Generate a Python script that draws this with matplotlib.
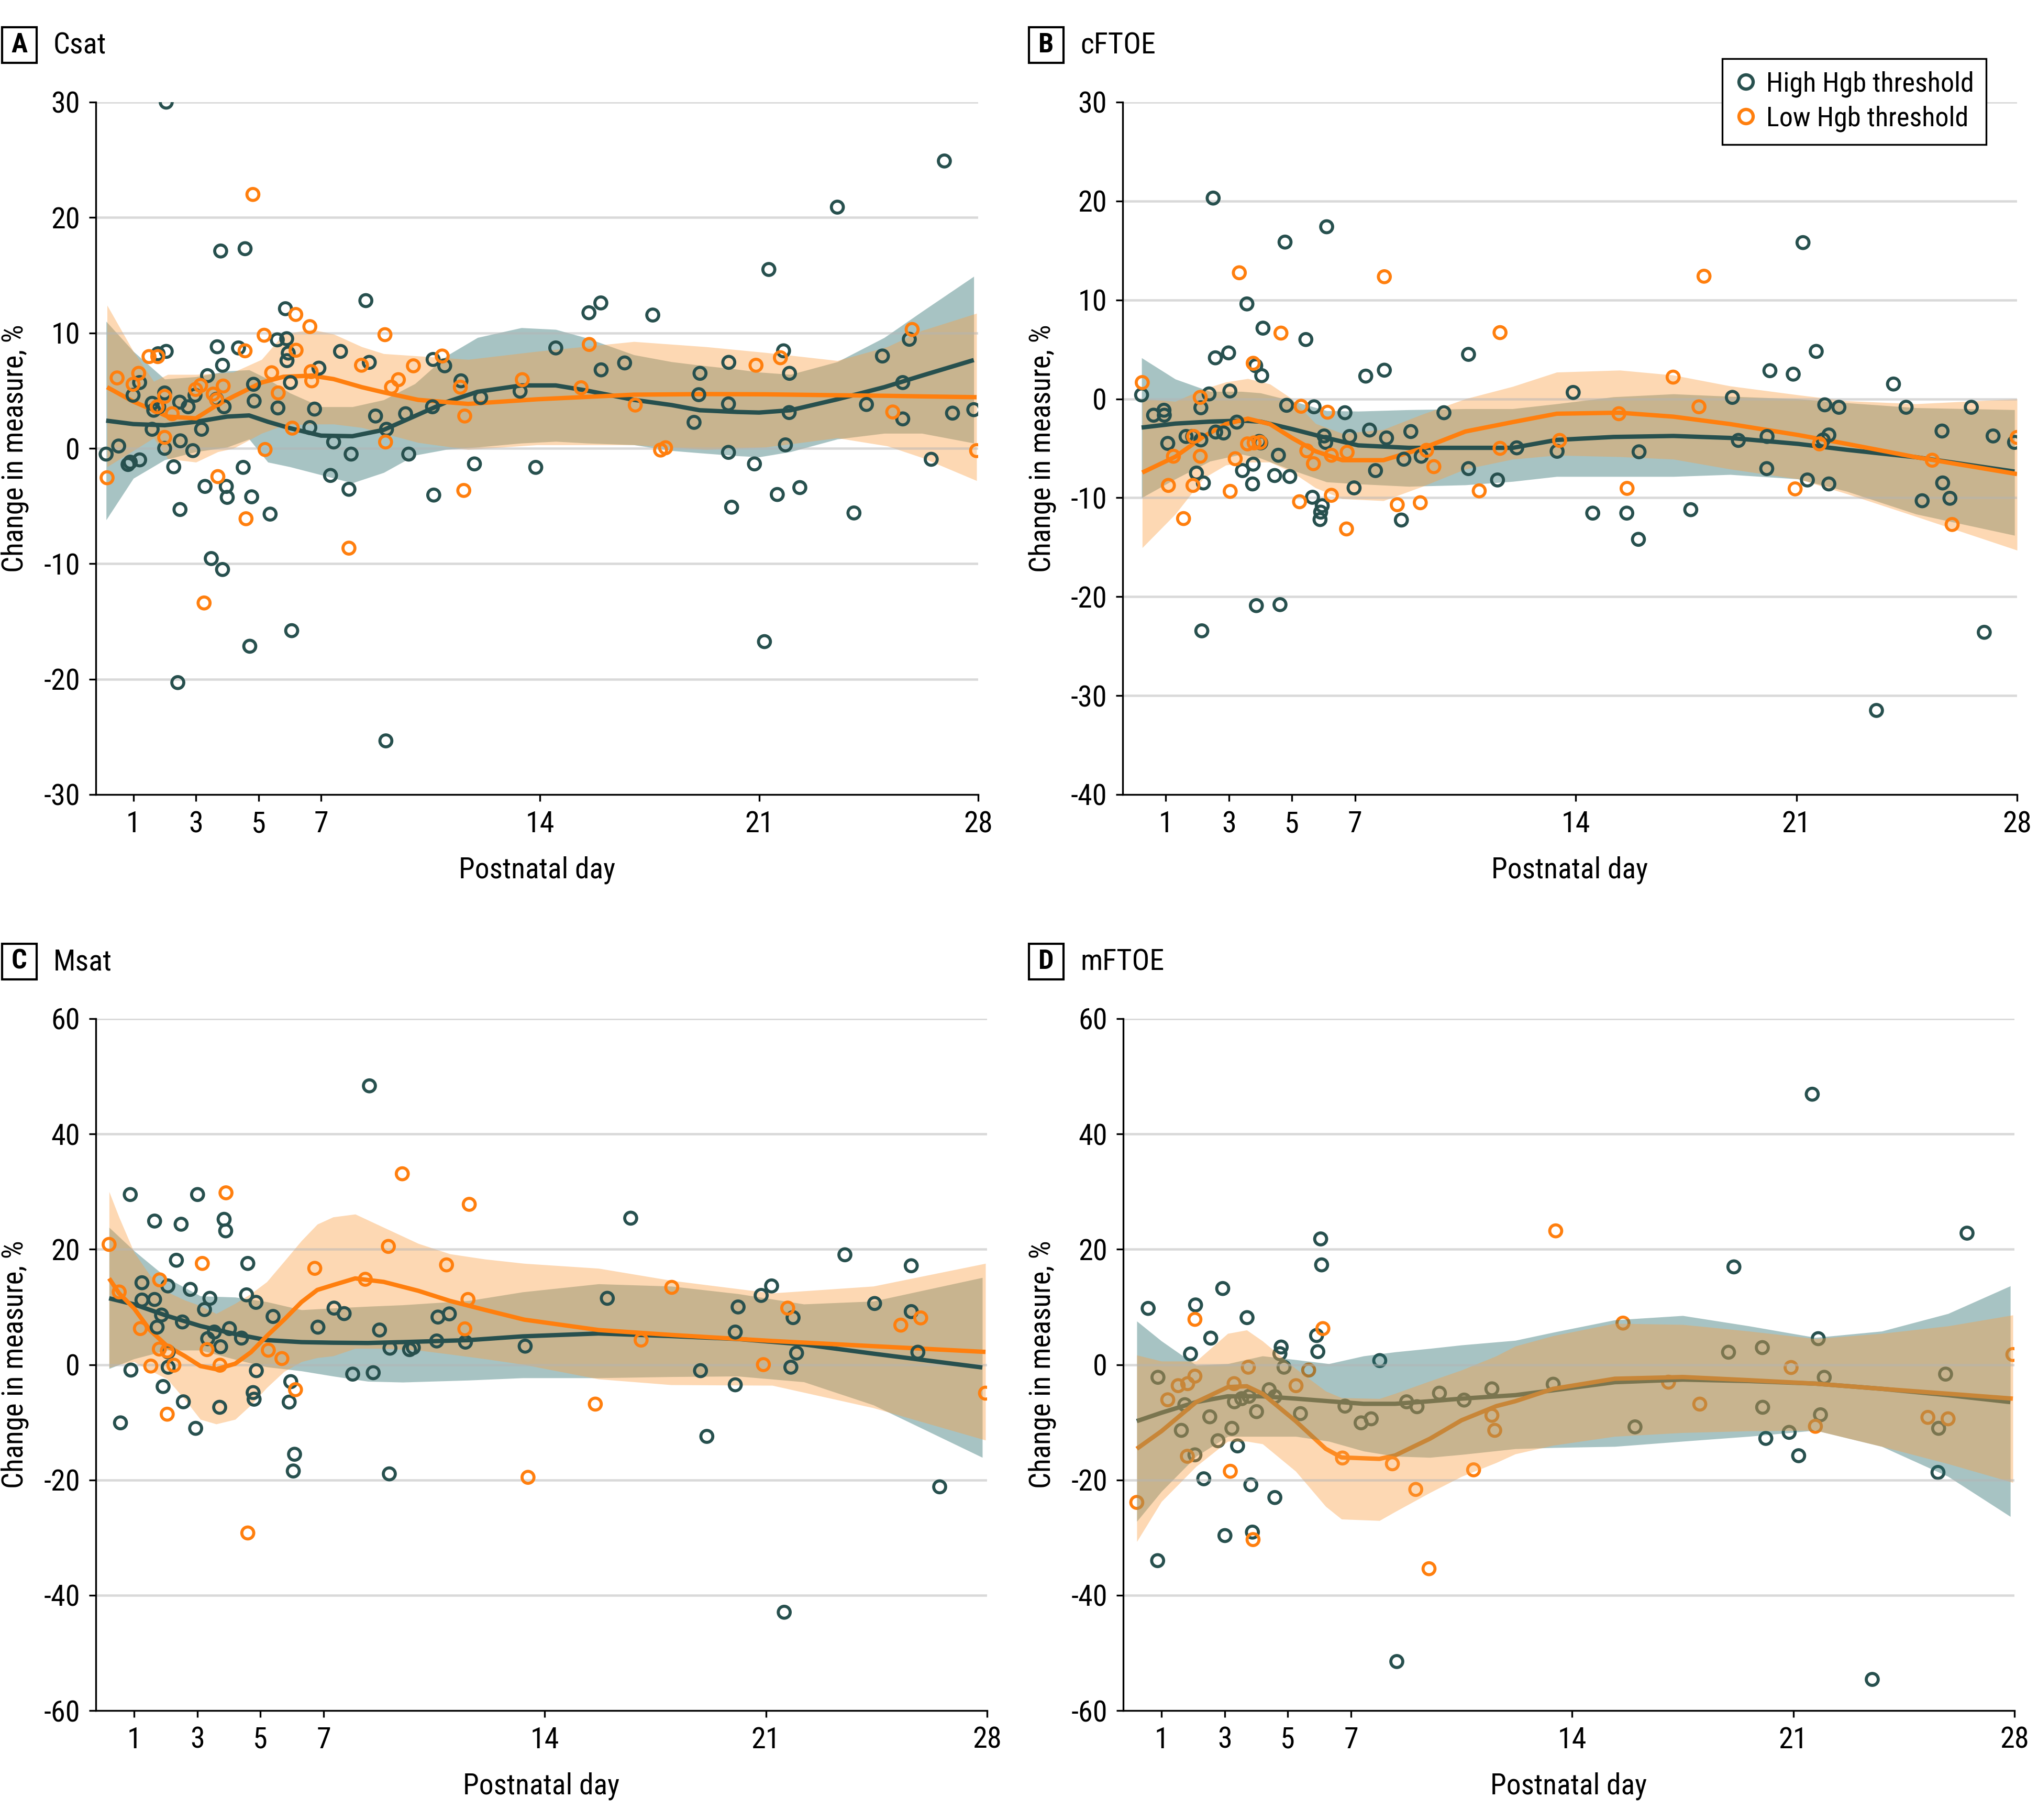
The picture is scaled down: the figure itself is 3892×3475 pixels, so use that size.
import numpy as np
import matplotlib
matplotlib.use("Agg")
import matplotlib.pyplot as plt
from matplotlib import font_manager as fm
from matplotlib.lines import Line2D
from matplotlib.patches import Rectangle

# the reference is set in a condensed sans; use whatever narrow face is installed
_fonts = [f for f in fm.fontManager.ttflist if f.style == 'normal' and f.weight in (400, 'normal', 'regular')]
_pick = None
for want in ['Liberation Sans Narrow', 'Roboto Condensed', 'Open Sans Condensed',
             'Noto Sans Condensed', 'DejaVu Sans Condensed']:
    hits = [f for f in _fonts if f.name == want]
    if hits:
        _pick = (hits[0].name, hits[0].stretch)
        break
if _pick is None:
    for f in _fonts:
        if f.stretch in ('condensed', 'semi-condensed') and 'Mono' not in f.name and 'Serif' not in f.name:
            _pick = (f.name, f.stretch)
            break
if _pick is None:
    _pick = ('Roboto', 'normal')
plt.rcParams['font.family'] = [_pick[0], 'DejaVu Sans']
plt.rcParams['font.stretch'] = _pick[1]
plt.rcParams['axes.unicode_minus'] = False

HI_COLOR = '#27504e'
LO_COLOR = '#ff7f0e'
HI_BAND = '#256b6b'
LO_BAND = '#fa9e41'

XTICKS = [1, 3, 5, 7, 14, 21, 28]

# ---------------- Panel A: Csat ----------------
a_hi = np.array([
    (2.05, 30.0), (0.13, -0.5), (0.53, 0.2), (0.83, -1.4), (0.9, -1.2), (1.2, -1.0), (0.99, 4.6),
    (1.2, 5.7), (1.6, 3.9), (1.65, 3.3), (1.81, 3.6), (2.05, 8.4), (1.79, 8.2), (2.0, 4.8),
    (2.0, 0.0), (1.6, 1.65), (2.29, -1.6), (2.48, 4.0), (2.5, 0.65), (2.75, 3.6), (2.9, -0.2),
    (2.49, -5.3), (2.42, -20.3), (2.97, 4.6), (3.18, 1.65), (3.37, 6.3), (3.29, -3.3),
    (3.49, -9.55), (3.85, -10.5), (3.68, 8.8), (3.79, 17.1), (3.85, 7.2), (3.66, 4.25),
    (3.9, 3.6), (3.97, -3.3), (4.0, -4.25), (4.36, 8.7), (4.57, 17.3), (4.51, -1.65),
    (4.78, -4.2), (4.72, -17.15), (4.84, 5.55), (4.86, 4.1), (5.37, -5.7), (5.6, 9.4),
    (5.62, 3.5), (5.86, 12.1), (5.9, 9.5), (5.95, 8.25), (5.91, 7.6), (6.02, 5.7),
    (6.06, -15.8), (6.64, 1.8), (6.79, 3.4), (6.93, 6.95), (7.3, -2.35), (7.4, 0.55),
    (7.62, 8.4), (7.89, -3.55), (7.96, -0.5), (8.43, 12.8), (8.54, 7.45), (8.74, 2.8),
    (9.09, 1.65), (9.07, -25.35), (9.7, 3.0), (9.8, -0.5), (10.58, 7.7), (10.95, 7.15),
    (10.56, 3.6), (10.6, -4.05), (11.47, 5.85), (11.9, -1.35), (12.1, 4.4), (13.36, 4.95),
    (13.86, -1.65), (14.5, 8.7), (15.56, 11.75), (15.94, 12.6), (15.95, 6.8), (16.7, 7.4),
    (17.6, 11.55), (18.92, 2.25), (19.07, 4.65), (19.11, 6.5), (20.03, 7.45), (20.02, 3.85),
    (20.02, -0.35), (20.12, -5.1), (20.85, -1.35), (21.31, 15.5), (21.17, -16.75),
    (21.58, -4.0), (21.78, 8.45), (21.97, 6.5), (21.96, 3.1), (21.84, 0.3), (22.3, -3.4),
    (23.5, 20.9), (24.03, -5.6), (24.43, 3.8), (24.94, 8.0), (25.59, 5.7), (25.8, 9.45),
    (25.59, 2.55), (26.5, -0.95), (26.92, 24.9), (27.18, 3.05), (27.86, 3.35)])
a_lo = np.array([
    (0.16, -2.55), (0.48, 6.1), (0.99, 5.55), (1.17, 6.5), (1.5, 7.95), (1.78, 7.95),
    (1.76, 3.6), (2.0, 4.5), (2.0, 0.95), (2.24, 3.0), (2.99, 5.1), (3.15, 5.45),
    (3.26, -13.4), (3.55, 4.7), (3.66, 4.2), (3.87, 5.4), (3.7, -2.45), (4.57, 8.45),
    (4.6, -6.1), (4.82, 22.0), (5.18, 9.8), (5.21, -0.1), (5.42, 6.55), (5.63, 4.8),
    (6.08, 1.75), (6.19, 11.6), (6.2, 8.5), (6.64, 10.55), (6.68, 6.65), (6.7, 5.85),
    (7.89, -8.65), (8.29, 7.2), (9.04, 9.85), (9.06, 0.55), (9.25, 5.3), (9.47, 5.95),
    (9.95, 7.15), (10.87, 8.0), (11.45, 5.3), (11.59, 2.8), (11.56, -3.65), (13.43, 5.95),
    (15.31, 5.25), (15.57, 9.0), (17.04, 3.75), (17.85, -0.15), (18.01, 0.05), (20.9, 7.2),
    (21.68, 7.85), (25.27, 3.15), (25.89, 10.3), (27.95, -0.2)])

# fitted curve + 95% CI: day, fit, lower, upper
a_hi_fit = np.array([
    (0.13, 2.4, -6.2, 11.0), (1, 2.1, -2.6, 8.4), (2, 2.0, -1.0, 6.0), (3, 2.3, -0.3, 6.2),
    (4, 2.75, 0.1, 6.7), (4.7, 2.85, 0.8, 6.8), (5.3, 2.3, -1.2, 6.0), (6, 1.75, -1.6, 4.8),
    (7, 1.1, -2.3, 3.6), (8, 1.05, -3.0, 3.6), (9, 1.6, -2.1, 4.2), (10, 2.8, -0.6, 5.6),
    (11, 4.0, -0.1, 8.0), (12, 4.9, 0.1, 9.6), (13.4, 5.45, 0.45, 10.45), (14.5, 5.45, 0.6, 10.3),
    (15.5, 5.0, 0.45, 9.55), (17, 4.2, 0.3, 8.1), (18.2, 3.75, -0.2, 7.5), (19.1, 3.3, -0.4, 7.2),
    (20.3, 3.15, -0.65, 6.85), (21, 3.1, -0.75, 6.6), (22, 3.3, -0.3, 6.4), (23.5, 4.25, 0.8, 7.5),
    (25, 5.3, 1.3, 9.6), (26.2, 6.3, 1.3, 11.85), (27.86, 7.65, 0.45, 14.9)])
a_lo_fit = np.array([
    (0.16, 5.3, -1.6, 12.4), (1, 4.05, -0.2, 8.4), (1.65, 3.3, 0.9, 5.8), (2.1, 2.75, -0.9, 6.4),
    (3, 2.6, -1.2, 6.4), (3.7, 3.8, -0.3, 6.5), (4.2, 4.5, 0.0, 6.6), (5.1, 5.7, 1.3, 7.7),
    (5.8, 6.2, 2.0, 9.9), (6.7, 6.3, 2.1, 10.3), (7.4, 6.0, 2.1, 9.9), (8.3, 5.3, 1.8, 8.8),
    (9.0, 4.85, 1.3, 8.2), (10.1, 4.2, 0.5, 8.0), (11.7, 3.85, -0.1, 7.7), (13.9, 4.25, 0.3, 8.4),
    (17.0, 4.65, 0.3, 9.25), (19.3, 4.7, -0.1, 8.8), (21.2, 4.68, 0.1, 8.3), (23.5, 4.6, 0.9, 7.6),
    (25.1, 4.55, 0.2, 8.8), (26.2, 4.5, -0.8, 10.2), (27.95, 4.43, -2.8, 11.7)])

# ---------------- Panel B: cFTOE ----------------
b_hi = np.array([
    (2.5, 20.3), (4.78, 15.85), (6.1, 17.4), (3.57, 9.6), (4.08, 7.15), (5.44, 6.0), (2.99, 4.65),
    (2.57, 4.15), (3.85, 3.35), (4.04, 2.35), (7.34, 2.3), (7.93, 2.9), (0.23, 0.4), (2.37, 0.5),
    (3.03, 0.8), (2.11, -0.9), (0.61, -1.65), (0.94, -1.15), (0.95, -1.65), (1.06, -4.5),
    (1.64, -3.8), (1.85, -3.8), (2.11, -4.15), (2.58, -3.35), (2.83, -3.45), (3.25, -2.35),
    (3.96, -4.3), (4.01, -4.45), (3.43, -7.25), (3.77, -6.6), (3.75, -8.6), (1.97, -7.5),
    (2.19, -8.5), (4.57, -5.7), (4.45, -7.75), (4.93, -7.85), (4.83, -0.65), (5.7, -0.8),
    (6.02, -3.75), (6.07, -4.4), (6.68, -1.4), (6.83, -3.8), (6.97, -9.0), (5.65, -9.95),
    (5.96, -10.8), (5.91, -11.45), (5.89, -12.2), (7.46, -3.15), (7.65, -7.25), (8.0, -3.95),
    (8.55, -6.1), (8.47, -12.25), (8.77, -3.3), (9.1, -5.8), (9.82, -1.4), (10.6, -7.05),
    (10.6, 4.5), (3.87, -20.9), (4.62, -20.8), (2.14, -23.45), (11.52, -8.2), (12.13, -4.95),
    (13.92, 0.65), (13.41, -5.3), (14.54, -11.55), (15.62, -11.55), (15.99, -14.2),
    (16.01, -5.35), (17.65, -11.2), (18.97, 0.15), (19.16, -4.2), (20.16, 2.85), (20.07, -3.8),
    (20.06, -7.05), (20.9, 2.5), (21.21, 15.8), (21.63, 4.8), (21.9, -0.6), (22.35, -0.85),
    (22.03, -3.65), (21.85, -4.15), (21.35, -8.2), (22.03, -8.6), (23.54, -31.5), (24.08, 1.5),
    (24.48, -0.85), (24.99, -10.3), (25.62, -3.25), (25.64, -8.5), (25.87, -10.05),
    (26.55, -0.85), (26.96, -23.6), (27.24, -3.75), (27.92, -4.4)])
b_lo = np.array([
    (0.25, 1.65), (3.33, 12.75), (4.65, 6.65), (3.77, 3.6), (7.93, 12.35), (2.09, 0.15),
    (5.29, -0.75), (6.13, -1.35), (1.88, -3.8), (2.09, -5.8), (1.24, -5.8), (1.08, -8.75),
    (1.86, -8.75), (1.56, -12.1), (3.2, -6.05), (3.04, -9.35), (3.59, -4.55), (3.8, -4.45),
    (3.99, -4.4), (5.47, -5.25), (5.68, -6.55), (6.25, -5.7), (6.75, -5.4), (6.25, -9.75),
    (5.24, -10.4), (6.73, -13.15), (8.34, -10.7), (9.07, -10.5), (9.27, -5.2), (9.5, -6.85),
    (10.94, -9.3), (11.6, 6.7), (11.6, -5.0), (13.49, -4.2), (15.37, -1.5), (15.63, -9.05),
    (17.09, 2.2), (17.91, -0.8), (18.07, 12.4), (20.96, -9.1), (21.73, -4.55), (25.31, -6.2),
    (25.94, -12.7), (28.0, -3.9)])
b_hi_fit = np.array([
    (0.23, -2.9, -10.0, 4.15), (1.3, -2.5, -8.1, 2.0), (2.4, -2.3, -6.3, 0.75), (3.4, -2.2, -5.6, 0.75),
    (4.0, -2.3, -6.0, 0.6), (5.0, -3.05, -7.2, -0.2), (6.1, -3.95, -8.4, -1.2), (7.1, -4.7, -8.6, -1.25),
    (8.7, -4.95, -8.85, -1.1), (10.5, -4.95, -8.7, -1.0), (12.0, -4.95, -8.35, -1.0),
    (13.4, -4.15, -7.85, -0.5), (15.2, -3.85, -7.85, 0.2), (17.1, -3.75, -7.85, 0.5),
    (18.9, -3.95, -7.65, 0.25), (21.05, -4.55, -8.1, 0.0), (22.6, -5.15, -9.35, -0.4),
    (24.8, -5.9, -11.65, -0.9), (27.92, -7.35, -13.8, -1.1)])
b_lo_fit = np.array([
    (0.25, -7.45, -15.05, 0.0), (1.3, -5.85, -11.65, -0.25), (2.2, -3.8, -8.0, 1.0),
    (2.9, -2.55, -6.7, 1.7), (3.6, -2.0, -6.4, 2.05), (4.3, -2.55, -6.4, 1.5), (5.0, -3.95, -7.4, 0.0),
    (5.75, -5.3, -9.0, -2.5), (6.6, -6.2, -10.1, -3.5), (7.9, -6.2, -10.3, -3.1),
    (9.1, -5.05, -8.9, -1.6), (10.5, -3.3, -7.1, 0.0), (12.0, -2.35, -6.1, 1.25),
    (13.4, -1.5, -5.7, 2.7), (15.4, -1.4, -5.85, 2.9), (17.1, -1.8, -6.1, 2.4),
    (18.9, -2.55, -7.1, 1.3), (21.05, -3.65, -8.1, 0.4), (22.6, -4.55, -9.6, -0.2),
    (24.8, -5.9, -11.9, -0.5), (28.0, -7.6, -15.3, 0.0)])

# ---------------- Panel C: Msat ----------------
c_hi = np.array([
    (0.88, 29.5), (0.57, -10.1), (0.9, -0.95), (1.25, 14.2), (1.25, 11.2), (1.65, 24.9),
    (1.65, 11.3), (1.73, 6.5), (1.87, 8.6), (2.07, 13.65), (2.08, 2.2), (2.08, -0.45),
    (1.92, -3.8), (2.34, 18.1), (2.49, 24.35), (2.53, 7.4), (2.56, -6.45), (2.78, 13.05),
    (2.95, -11.05), (3.01, 29.5), (3.23, 9.55), (3.4, 11.5), (3.33, 4.5), (3.54, 5.65),
    (3.74, 3.1), (3.71, -7.4), (3.85, 25.2), (3.9, 23.2), (4.02, 6.25), (4.4, 4.6),
    (4.56, 12.1), (4.6, 17.55), (4.86, 10.8), (4.87, -1.05), (4.77, -4.85), (4.8, -6.0),
    (5.4, 8.35), (5.96, -2.95), (5.91, -6.5), (6.08, -15.55), (6.04, -18.45), (6.82, 6.5),
    (7.33, 9.8), (7.65, 8.85), (7.92, -1.65), (8.45, 48.35), (8.57, -1.4), (8.77, 6.0),
    (9.1, 2.85), (9.08, -18.95), (9.72, 2.6), (9.84, 2.95), (10.58, 4.1), (10.62, 8.25),
    (10.98, 8.8), (11.49, 3.9), (13.38, 3.2), (15.98, 11.5), (16.72, 25.4), (18.93, -1.05),
    (19.13, -12.45), (20.03, 5.65), (20.03, -3.5), (20.12, 10.0), (20.85, 12.0), (21.18, 13.65),
    (21.58, -42.95), (21.79, -0.45), (21.86, 8.15), (21.97, 2.0), (23.5, 19.05), (24.44, 10.6),
    (25.6, 17.15), (25.6, 9.2), (25.81, 2.15), (26.5, -21.2)])
c_lo = np.array([
    (0.21, 20.85), (0.53, 12.6), (1.2, 6.25), (1.81, 14.7), (1.8, 2.7), (2.05, 2.35),
    (1.53, -0.25), (2.26, -0.1), (2.05, -8.6), (3.16, 17.55), (3.31, 2.6), (3.72, -0.1),
    (3.91, 29.8), (4.6, -29.2), (5.25, 2.5), (5.68, 1.05), (6.11, -4.35), (6.72, 16.7),
    (8.32, 14.8), (9.05, 20.5), (9.49, 33.1), (10.89, 17.3), (11.57, 11.3), (11.47, 6.2),
    (11.61, 27.8), (13.47, -19.55), (15.6, -6.85), (17.05, 4.25), (18.02, 13.4), (20.92, 0.0),
    (21.69, 9.8), (25.27, 6.85), (25.9, 8.1), (27.95, -4.95)])
c_hi_fit = np.array([
    (0.21, 11.5, -0.7, 23.8), (1.0, 10.45, 1.0, 19.75), (2.05, 8.45, 2.5, 15.0), (3.1, 6.7, 2.5, 11.9),
    (4.2, 5.3, 0.9, 11.7), (5.2, 4.25, -0.4, 10.9), (6.3, 3.9, -1.1, 9.5), (7.3, 3.8, -2.0, 9.8),
    (8.4, 3.75, -2.9, 10.1), (9.5, 3.9, -3.05, 10.35), (11.6, 4.25, -2.7, 11.1),
    (13.3, 4.9, -2.3, 12.6), (15.7, 5.4, -2.3, 14.0), (18.0, 4.95, -2.1, 13.6),
    (20.1, 4.45, -2.0, 12.3), (22.2, 3.5, -3.0, 10.5), (24.4, 1.9, -7.0, 11.0),
    (27.85, -0.5, -16.1, 15.1)])
c_lo_fit = np.array([
    (0.21, 14.95, -0.5, 30.0), (0.53, 12.35, 0.0, 25.5), (1.0, 9.75, 0.5, 19.5), (1.5, 6.0, -1.0, 15.5),
    (2.05, 3.2, -2.5, 12.6), (2.6, 1.5, -6.0, 11.2), (3.1, -0.25, -9.5, 10.2), (3.6, -0.8, -10.3, 8.85),
    (4.2, 0.15, -9.5, 10.6), (4.7, 2.15, -7.0, 12.3), (5.2, 4.95, -4.0, 14.35), (5.75, 7.8, -1.2, 17.9),
    (6.3, 10.85, 0.5, 21.5), (6.8, 12.95, 1.2, 24.35), (7.3, 13.8, 1.5, 25.6), (8.0, 14.95, 2.8, 26.1),
    (8.9, 14.35, 2.8, 23.8), (10.0, 12.8, 2.5, 21.0), (11.0, 11.05, 1.8, 19.2), (12.1, 9.5, 1.0, 18.3),
    (13.35, 7.8, 0.0, 17.55), (15.7, 6.0, -2.5, 16.7), (18.0, 5.15, -3.5, 14.6),
    (21.2, 4.1, -3.6, 12.4), (24.4, 3.2, -7.5, 13.6), (27.95, 2.2, -13.1, 17.55)])

# ---------------- Panel D: mFTOE ----------------
d_hi = np.array([
    (0.58, 9.75), (0.88, -34.0), (0.89, -2.2), (2.08, 10.35), (1.92, 1.85), (2.94, 13.2),
    (2.56, 4.6), (2.53, -9.05), (1.74, -6.95), (1.63, -11.4), (2.06, -15.65), (2.34, -19.8),
    (2.79, -13.2), (3.01, -29.65), (3.23, -11.05), (3.31, -6.45), (3.41, -14.1), (3.54, -5.9),
    (3.71, 8.15), (3.77, -5.5), (3.83, -20.85), (3.88, -29.05), (4.01, -8.15), (4.41, -4.35),
    (4.59, -5.55), (4.59, -23.05), (4.75, 1.9), (4.79, 3.05), (4.88, -0.45), (5.4, -8.5),
    (5.91, 5.05), (5.95, 2.25), (6.04, 21.8), (6.07, 17.3), (6.81, -7.2), (7.32, -10.1),
    (7.64, -9.4), (7.91, 0.7), (8.45, -51.5), (8.76, -6.45), (9.09, -7.3), (9.8, -4.95),
    (10.58, -6.15), (11.46, -4.2), (13.4, -3.4), (15.99, -10.8), (19.12, 16.95), (18.95, 2.15),
    (20.02, 2.95), (20.03, -7.4), (20.13, -12.8), (20.87, -11.75), (21.17, -15.8), (21.6, 46.9),
    (21.79, 4.5), (21.98, -2.2), (21.86, -8.7), (23.5, -54.6), (25.6, -11.05), (25.58, -18.7),
    (25.82, -1.65), (26.5, 22.8)])
d_lo = np.array([
    (0.22, -23.9), (1.2, -6.1), (1.53, -3.65), (1.83, -3.3), (2.06, -2.0), (2.06, 7.85),
    (1.82, -15.9), (3.18, -18.5), (3.3, -3.3), (3.75, -0.45), (3.9, -30.35), (5.26, -3.65),
    (5.66, -0.95), (6.11, 6.25), (6.73, -16.2), (8.31, -17.2), (9.05, -21.65), (9.47, -35.4),
    (10.88, -18.25), (11.46, -8.8), (11.55, -11.4), (13.48, 23.2), (15.61, 7.2), (17.05, -3.05),
    (18.04, -6.85), (20.93, -0.5), (21.7, -10.7), (25.26, -9.15), (25.9, -9.4), (27.95, 1.75)])
d_hi_fit = np.array([
    (0.22, -9.8, -27.2, 7.55), (1.0, -8.35, -22.0, 4.1), (2.1, -6.5, -15.9, -0.1), (3.1, -5.5, -12.45, 0.15),
    (4.2, -5.5, -12.45, 1.5), (5.25, -5.9, -12.45, 0.85), (6.3, -6.35, -13.3, 0.15),
    (7.4, -6.8, -15.0, 1.5), (8.4, -6.8, -15.9, 2.2), (9.5, -6.35, -16.1, 2.8),
    (10.5, -5.9, -15.6, 3.4), (12.2, -5.3, -14.6, 4.2), (13.4, -4.45, -14.4, 5.6),
    (15.35, -3.05, -14.2, 7.75), (17.5, -2.6, -13.3, 8.5), (19.6, -2.85, -12.45, 6.7),
    (21.7, -3.3, -11.4, 4.7), (23.8, -4.2, -14.2, 5.8), (25.9, -5.3, -19.4, 8.85),
    (27.87, -6.5, -26.35, 13.65)])
d_lo_fit = np.array([
    (0.22, -14.6, -30.7, 1.65), (1.0, -11.55, -23.75, 0.6), (2.1, -6.5, -17.65, 0.6),
    (3.1, -3.9, -13.3, 5.4), (3.7, -3.75, -13.3, 6.0), (4.2, -5.05, -13.75, 4.1),
    (5.25, -9.8, -18.5, -0.7), (6.2, -14.6, -24.6, -4.6), (6.7, -16.1, -26.8, -5.75),
    (7.9, -16.35, -27.05, -5.9), (8.4, -15.75, -25.5, -5.0), (9.5, -12.85, -22.2, -2.85),
    (10.5, -9.65, -19.4, -0.95), (11.6, -7.2, -17.0, 1.5), (12.2, -6.35, -15.5, 3.2),
    (13.4, -4.2, -14.0, 5.0), (15.35, -2.45, -12.45, 7.15), (17.5, -2.15, -11.8, 6.95),
    (19.6, -2.7, -11.5, 5.8), (21.7, -3.3, -11.4, 4.5), (23.8, -4.2, -14.2, 5.4),
    (25.9, -5.05, -17.2, 6.7), (27.95, -5.9, -20.45, 8.6)])


def draw_panel(ax, hi, lo, hi_fit, lo_fit, yticks, xlim, ylab_x, bands_on_top=False):
    # stacking order: in panel D the shaded CIs sit over the points and curves
    if bands_on_top:
        z_pts, z_line, z_band = 0.8, 0.9, 1.0
    else:
        z_pts, z_line, z_band = 3.0, 2.5, 1.0

    ax.fill_between(hi_fit[:, 0], hi_fit[:, 2], hi_fit[:, 3], color=HI_BAND, alpha=0.4,
                    lw=0, zorder=z_band)
    ax.fill_between(lo_fit[:, 0], lo_fit[:, 2], lo_fit[:, 3], color=LO_BAND, alpha=0.4,
                    lw=0, zorder=z_band + 0.05)

    for yv in yticks[1:]:
        ax.axhline(yv, color='#b4b4b4', alpha=0.5, lw=1.1, zorder=1.5)

    ax.plot(hi_fit[:, 0], hi_fit[:, 1], color=HI_COLOR, lw=2.0, zorder=z_line,
            solid_capstyle='butt')
    ax.plot(lo_fit[:, 0], lo_fit[:, 1], color=LO_COLOR, lw=2.0, zorder=z_line + 0.01,
            solid_capstyle='butt')

    ax.scatter(hi[:, 0], hi[:, 1], s=30, facecolors='none', edgecolors=HI_COLOR,
               linewidths=1.4, zorder=z_pts)
    ax.scatter(lo[:, 0], lo[:, 1], s=30, facecolors='none', edgecolors=LO_COLOR,
               linewidths=1.4, zorder=z_pts + 0.01)

    ax.set_xlim(*xlim)
    ax.set_ylim(yticks[0], yticks[-1])
    ax.set_xticks(XTICKS)
    ax.set_yticks(yticks)
    for side in ['top', 'right']:
        ax.spines[side].set_visible(False)
    for side in ['left', 'bottom']:
        ax.spines[side].set_linewidth(0.8)
    ax.tick_params(direction='out', length=3.2, width=0.8, labelsize=13.5, pad=4)
    ax.set_xlabel('Postnatal day', fontsize=13.3)
    ax.set_ylabel('Change in measure, %', fontsize=13.2, va='center')
    ax.xaxis.set_label_coords(0.5, -0.089)
    ax.yaxis.set_label_coords(ylab_x, 0.5)


fig = plt.figure(figsize=(3892 / 300, 3475 / 300), dpi=300)

W, H = 3892, 3475
ax_a = fig.add_axes([183 / W, 1 - 1517 / H, (1868 - 183) / W, 1322 / H])
ax_b = fig.add_axes([2144 / W, 1 - 1517 / H, (3852 - 2144) / W, 1322 / H])
ax_c = fig.add_axes([183 / W, 1 - 3266 / H, (1885 - 183) / W, 1321 / H])
ax_d = fig.add_axes([2145 / W, 1 - 3266 / H, (3847 - 2145) / W, 1321 / H])

draw_panel(ax_a, a_hi, a_lo, a_hi_fit, a_lo_fit, [-30, -20, -10, 0, 10, 20, 30], (-0.2, 28), -0.092)
draw_panel(ax_b, b_hi, b_lo, b_hi_fit, b_lo_fit, [-40, -30, -20, -10, 0, 10, 20, 30], (-0.37, 28), -0.090)
draw_panel(ax_c, c_hi, c_lo, c_hi_fit, c_lo_fit, [-60, -40, -20, 0, 20, 40, 60], (-0.21, 28), -0.091)
draw_panel(ax_d, d_hi, d_lo, d_hi_fit, d_lo_fit, [-60, -40, -20, 0, 20, 40, 60], (-0.21, 28), -0.091,
           bands_on_top=True)

# panel letters in boxes + titles
panel_titles = [('A', 'Csat', 4, 52), ('B', 'cFTOE', 1965, 52),
                ('C', 'Msat', 4, 1802), ('D', 'mFTOE', 1965, 1802)]
for letter, name, bx, by in panel_titles:
    fig.patches.append(Rectangle((bx / W, 1 - (by + 68) / H), 66 / W, 68 / H,
                                 transform=fig.transFigure, fill=False, ec='black', lw=1.0))
    fig.text((bx + 33) / W, 1 - (by + 34) / H, letter, fontsize=12.5, fontweight='bold',
             ha='center', va='center')
    fig.text((bx + 98) / W, 1 - (by + 35) / H, name, fontsize=13.5, ha='left', va='center')

handles = [
    Line2D([], [], ls='none', marker='o', ms=6.5, mfc='none', mec=HI_COLOR, mew=1.5,
           label='High Hgb threshold'),
    Line2D([], [], ls='none', marker='o', ms=6.5, mfc='none', mec=LO_COLOR, mew=1.5,
           label='Low Hgb threshold'),
]
leg = ax_b.legend(handles=handles, loc='upper right', bbox_to_anchor=(3793 / W, 1 - 112 / H),
                  bbox_transform=fig.transFigure, borderaxespad=0, fontsize=12.5,
                  fancybox=False, edgecolor='black', framealpha=1, handlelength=0.8,
                  handletextpad=0.35, borderpad=0.45, labelspacing=0.3)
leg.get_frame().set_linewidth(0.8)

fig.savefig('out.png', dpi=300, facecolor='white')
